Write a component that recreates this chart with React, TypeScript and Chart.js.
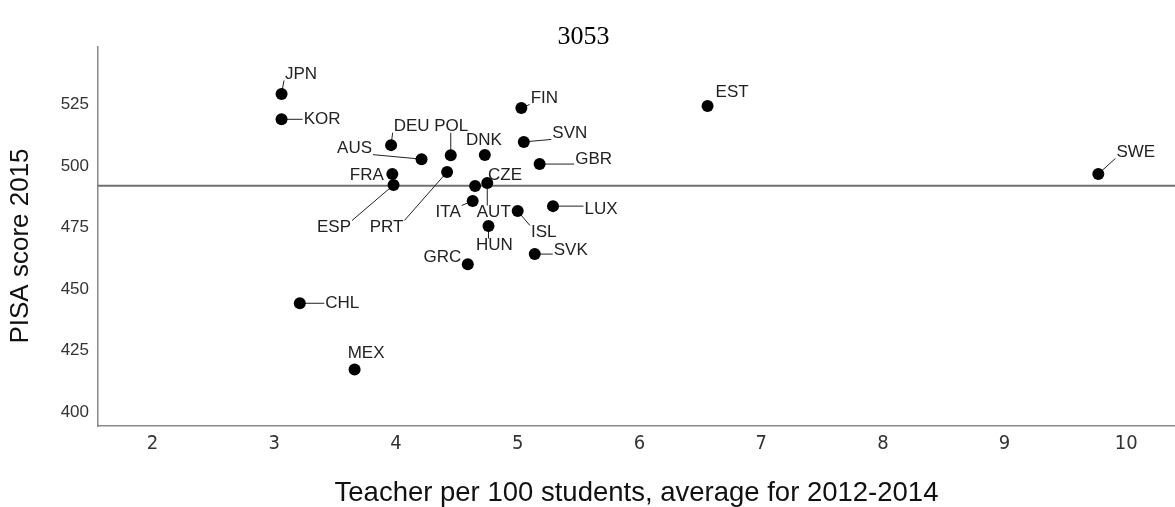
import React, { useEffect, useRef } from "react";
import { Chart, registerables } from "chart.js";

Chart.register(...registerables);

// ---- data ----
const countries = [
  "JPN", "KOR", "DEU", "AUS", "POL", "PRT", "FRA", "ESP", "DNK", "FIN", "SVN", "GBR",
  "CZE", "AUT", "ITA", "HUN", "ISL", "LUX", "SVK", "GRC", "CHL", "MEX", "EST", "SWE",
];
const teachersPer100 = [
  3.06, 3.06, 3.96, 4.21, 4.45, 4.42, 3.97, 3.98, 4.73, 5.03, 5.05, 5.18,
  4.65, 4.75, 4.63, 4.76, 5.0, 5.29, 5.14, 4.59, 3.21, 3.66, 6.56, 9.77,
];
const pisaScores = [
  529.3, 519.0, 508.5, 502.8, 504.4, 497.6, 496.8, 492.3, 504.5, 523.6, 509.8, 500.8,
  491.9, 493.1, 485.8, 475.6, 481.7, 483.7, 464.2, 460.1, 444.2, 417.3, 524.4, 496.8,
];
const referenceScore = 492;
const xTickValues = [2, 3, 4, 5, 6, 7, 8, 9, 10];
const yTickValues = [400, 425, 450, 475, 500, 525];
const titleText = "3053";
const xTitle = "Teacher per 100 students, average for 2012-2014";
const yTitle = "PISA score 2015";

// ---- label layout: offset of the label centre from its point (px), and whether a leader is drawn ----
const labelLayout: Record<string, [number, number, boolean]> = {
  JPN: [19.5, -20, true],
  KOR: [40.5, 0, true],
  DEU: [20.5, -19, true],
  POL: [0.5, -29, true],
  AUS: [-67, -11, true],
  FRA: [-25.5, 1, false],
  ESP: [-59.5, 42, true],
  PRT: [-60.5, 55, true],
  DNK: [-1, -15, false],
  FIN: [23, -10, true],
  SVN: [46, -9, true],
  GBR: [54, -5, true],
  CZE: [30, -11, false],
  AUT: [6.5, 29, true],
  ITA: [-24.5, 11, true],
  HUN: [6, 19, true],
  ISL: [26, 21, true],
  LUX: [48, 3, true],
  SVK: [36, -4, true],
  GRC: [-25.5, -7, false],
  CHL: [42.5, 0, true],
  MEX: [11.5, -16, false],
  EST: [24.5, -14, false],
  SWE: [37.5, -22, true],
};

const SANS = "'Liberation Sans', Arial, sans-serif";
const NARROW = "'Liberation Sans Narrow', 'DejaVu Sans Condensed', 'Liberation Sans', sans-serif";
const LABEL_FONT = `17px ${SANS}`;

const overlayPlugin = {
  id: "overlay",
  beforeDatasetsDraw(chart: any) {
    const { ctx, chartArea, scales } = chart;
    const yRef = scales.y.getPixelForValue(referenceScore);
    ctx.save();
    ctx.strokeStyle = "#707070";
    ctx.lineWidth = 2;
    ctx.beginPath();
    ctx.moveTo(chartArea.left, yRef);
    ctx.lineTo(chartArea.right, yRef);
    ctx.stroke();

    // leader lines
    ctx.font = LABEL_FONT;
    ctx.strokeStyle = "#222";
    ctx.lineWidth = 1;
    const meta = chart.getDatasetMeta(0);
    meta.data.forEach((el: any, i: number) => {
      const [dx, dy, lead] = labelLayout[countries[i]];
      if (!lead) return;
      const cx = el.x + dx;
      const cy = el.y + dy;
      const w = ctx.measureText(countries[i]).width;
      const h = 13;
      const nx = Math.min(Math.max(el.x, cx - w / 2 - 1), cx + w / 2 + 1);
      const ny = Math.min(Math.max(el.y, cy - h / 2), cy + h / 2);
      ctx.beginPath();
      ctx.moveTo(el.x, el.y);
      ctx.lineTo(nx, ny);
      ctx.stroke();
    });
    ctx.restore();
  },
  afterDatasetsDraw(chart: any) {
    const { ctx } = chart;
    ctx.save();
    ctx.font = LABEL_FONT;
    ctx.fillStyle = "#222";
    ctx.textAlign = "center";
    ctx.textBaseline = "middle";
    const meta = chart.getDatasetMeta(0);
    meta.data.forEach((el: any, i: number) => {
      const [dx, dy] = labelLayout[countries[i]];
      ctx.fillText(countries[i], el.x + dx, el.y + dy);
    });
    ctx.restore();
  },
  afterDraw(chart: any) {
    const { ctx } = chart;
    ctx.save();
    ctx.font = "26px 'Liberation Serif', 'Times New Roman', serif";
    ctx.fillStyle = "#000";
    ctx.textAlign = "center";
    ctx.textBaseline = "middle";
    ctx.fillText(titleText, chart.width / 2 - 4, 37);

    // y axis title
    ctx.font = `26px ${SANS}`;
    ctx.fillStyle = "#111";
    ctx.translate(21, 246);
    ctx.rotate(-Math.PI / 2);
    ctx.fillText(yTitle, 0, 0);
    ctx.restore();
  },
};

export default function App() {
  const canvasRef = useRef<HTMLCanvasElement | null>(null);

  useEffect(() => {
    if (!canvasRef.current) return;
    const points = teachersPer100.map((x, i) => ({ x, y: pisaScores[i] }));
    const chart = new Chart(canvasRef.current, {
      type: "scatter",
      data: {
        datasets: [
          {
            label: "Countries",
            data: points,
            pointRadius: 6,
            pointHoverRadius: 6,
            backgroundColor: "#000",
            borderWidth: 0,
          },
        ],
      },
      options: {
        animation: false,
        responsive: true,
        maintainAspectRatio: false,
        layout: { autoPadding: false, padding: { top: 47, left: 0, right: 0, bottom: 0 } },
        plugins: {
          legend: { display: false },
          tooltip: { enabled: false },
          title: { display: false },
        },
        scales: {
          x: {
            type: "linear",
            min: 1.552,
            max: 10.4,
            afterBuildTicks: (s: any) => {
              s.ticks = xTickValues.map((v) => ({ value: v }));
            },
            afterFit: (s: any) => {
              s.height = 81;
              s.paddingLeft = 0;
              s.paddingRight = 0;
            },
            grid: { display: false, drawTicks: false },
            border: { display: true, color: "#888", width: 1.5 },
            ticks: {
              padding: 6,
              color: "#333",
              font: { family: NARROW, size: 20 },
            },
            title: {
              display: true,
              text: xTitle,
              color: "#111",
              font: { family: SANS, size: 27.5, lineHeight: 1.0 },
              padding: { top: 0, bottom: 0 },
            },
          },
          y: {
            type: "linear",
            min: 394.3,
            max: 548.4,
            afterBuildTicks: (s: any) => {
              s.ticks = yTickValues.map((v) => ({ value: v }));
            },
            afterFit: (s: any) => {
              s.width = 98;
            },
            grid: { display: false, drawTicks: false },
            border: { display: true, color: "#888", width: 1.5 },
            ticks: {
              padding: 9,
              color: "#333",
              font: { family: SANS, size: 17 },
            },
            title: { display: false },
          },
        },
      },
      plugins: [overlayPlugin],
    });
    return () => chart.destroy();
  }, []);

  return (
    <div style={{ position: "absolute", left: 0, top: 0, width: 1175, height: 507 }}>
      <canvas ref={canvasRef} />
    </div>
  );
}
